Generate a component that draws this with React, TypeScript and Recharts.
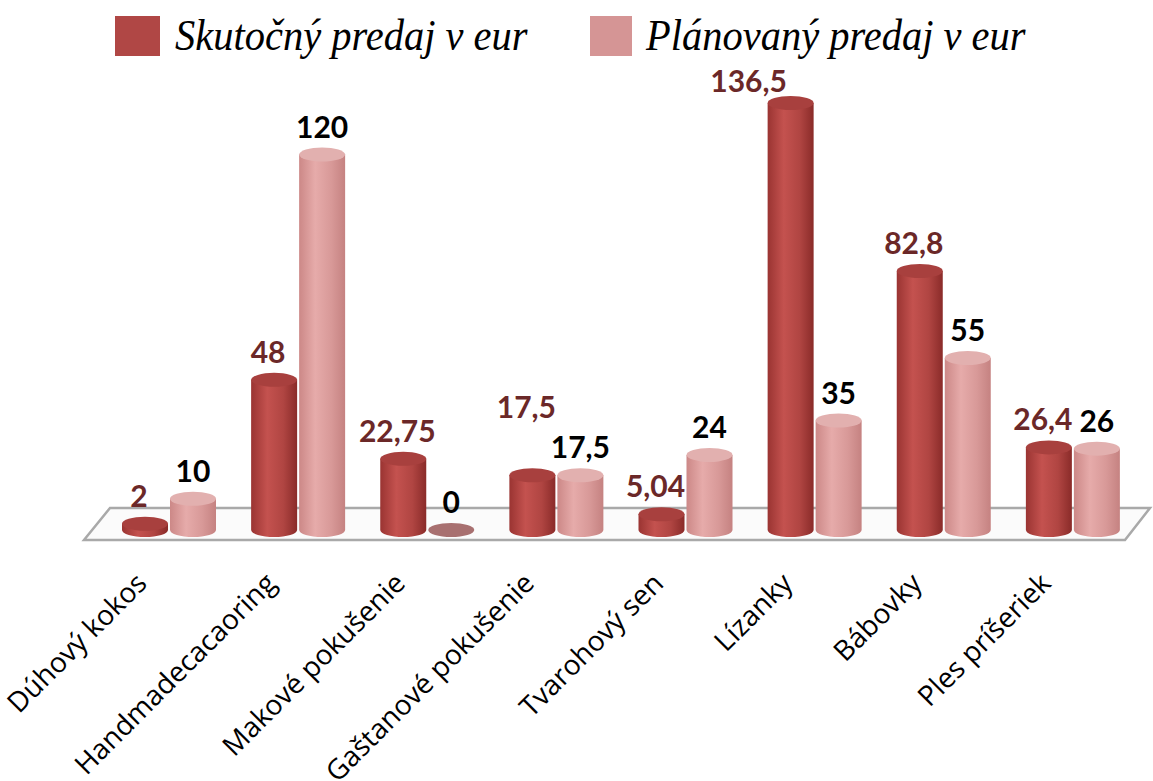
import { BarChart, Bar, XAxis, YAxis, LabelList, ReferenceArea } from 'recharts';

const categories = [
  'Dúhový kokos',
  'Handmadecacaoring',
  'Makové pokušenie',
  'Gaštanové pokušenie',
  'Tvarohový sen',
  'Lízanky',
  'Bábovky',
  'Ples príšeriek',
];
const actualSales = [2, 48, 22.75, 17.5, 5.04, 136.5, 82.8, 26.4];
const plannedSales = [10, 120, 0, 17.5, 24, 35, 55, 26];

const seriesNames = ['Skutočný predaj v eur', 'Plánovaný predaj v eur'];

const data = categories.map((name, i) => ({
  name,
  actual: actualSales[i],
  planned: plannedSales[i],
}));

const RED = '#b04745';
const PINK = '#d59595';

const fmt = (v: number) => String(v).replace('.', ',');

// cylinder-ish bar: gradient body, rounded bottom, elliptical top
function Cylinder(props: any) {
  const { x, y, width, height, gradId, topFill, flatFill } = props;
  const rx = width / 2;
  const ry = 7;
  const cx = x + rx;
  if (!height || height < 1) {
    return <ellipse cx={cx} cy={y} rx={rx} ry={ry} fill={flatFill} />;
  }
  const bottom = y + height;
  const d = `M${x},${y} L${x},${bottom} A${rx},${ry} 0 0 0 ${x + width},${bottom} L${x + width},${y} Z`;
  return (
    <g>
      <path d={d} fill={`url(#${gradId})`} />
      <ellipse cx={cx} cy={y} rx={rx} ry={ry} fill={topFill} />
    </g>
  );
}

function Floor(props: any) {
  const { x, y, width } = props;
  const pts = [
    [x - 20, y + 10],
    [x + width - 12, y + 10],
    [x + width + 13, y - 22],
    [x + 6, y - 22],
  ];
  return (
    <polygon
      points={pts.map((p) => p.join(',')).join(' ')}
      fill="#fbfbfb"
      stroke="#a9a9a9"
      strokeWidth={2.5}
    />
  );
}

function CategoryTick(props: any) {
  const { x, y, payload } = props;
  const tx = x - 20;
  const ty = y + 47;
  return (
    <text
      x={tx}
      y={ty}
      textAnchor="end"
      transform={`rotate(-45, ${tx}, ${ty})`}
      fontFamily="'Open Sans', sans-serif"
      fontSize={28}
      fill="#000"
    >
      {payload.value}
    </text>
  );
}

// red labels: lift the label when it equals the planned one next to it,
// and slide it left when it would run into the legend
function ActualLabel(props: any) {
  const { x, y, width, value, index } = props;
  const lift = plannedSales[index] === value ? 40 : 0;
  const nearTop = y < 120;
  return (
    <text
      x={x + width / 2 + (nearTop ? -42 : -6)}
      y={y - 17 - lift + (nearTop ? 6 : 0)}
      textAnchor="middle"
      fontFamily="Lato, sans-serif"
      fontWeight={700}
      fontSize={30}
      fill="#6b2828"
    >
      {fmt(value)}
    </text>
  );
}

function PlannedLabel(props: any) {
  const { x, y, width, value } = props;
  return (
    <text
      x={x + width / 2}
      y={y - 17}
      textAnchor="middle"
      fontFamily="Lato, sans-serif"
      fontWeight={700}
      fontSize={30}
      fill="#000"
    >
      {fmt(value)}
    </text>
  );
}

const legendText = {
  display: 'inline-block',
  transform: 'scaleX(0.92)',
  transformOrigin: 'left center',
};

export default function App() {
  return (
    <div style={{ position: 'absolute', left: 0, top: 0, width: 1153, height: 781, background: '#fff' }}>
      <div
        style={{
          position: 'absolute',
          top: 10,
          left: 115,
          display: 'flex',
          alignItems: 'center',
          fontFamily: "'Liberation Serif', serif",
          fontStyle: 'italic',
          fontSize: 44,
          color: '#000',
          whiteSpace: 'nowrap',
        }}
      >
        <span style={{ display: 'inline-block', width: 45, height: 40, background: RED, marginRight: 15 }} />
        <span style={{ ...legendText, width: 415 }}>{seriesNames[0]}</span>
        <span style={{ display: 'inline-block', width: 42, height: 40, background: PINK, marginRight: 14 }} />
        <span style={legendText}>{seriesNames[1]}</span>
      </div>
      <div style={{ position: 'absolute', left: 0, top: 0 }}>
        <BarChart
          width={1153}
          height={781}
          data={data}
          margin={{ top: 92, right: 16, bottom: 0, left: 104 }}
          barSize={46}
          barGap={2}
        >
          <defs>
            <linearGradient id="gRed" x1="0" y1="0" x2="1" y2="0">
              <stop offset="0%" stopColor="#9a3432" />
              <stop offset="35%" stopColor="#c4524f" />
              <stop offset="70%" stopColor="#b04542" />
              <stop offset="100%" stopColor="#8a2b29" />
            </linearGradient>
            <linearGradient id="gPink" x1="0" y1="0" x2="1" y2="0">
              <stop offset="0%" stopColor="#cc8887" />
              <stop offset="35%" stopColor="#e6abaa" />
              <stop offset="70%" stopColor="#d89998" />
              <stop offset="100%" stopColor="#c58281" />
            </linearGradient>
          </defs>
          <XAxis
            dataKey="name"
            axisLine={false}
            tickLine={false}
            interval={0}
            height={251}
            tick={<CategoryTick />}
          />
          <YAxis hide domain={[0, 140]} />
          <ReferenceArea y1={0} y2={0} shape={<Floor />} ifOverflow="visible" />
          <Bar
            dataKey="actual"
            name={seriesNames[0]}
            fill={RED}
            isAnimationActive={false}
            shape={<Cylinder gradId="gRed" topFill="#a8403e" flatFill="#8e3432" />}
          >
            <LabelList dataKey="actual" content={<ActualLabel />} />
          </Bar>
          <Bar
            dataKey="planned"
            name={seriesNames[1]}
            fill={PINK}
            isAnimationActive={false}
            shape={<Cylinder gradId="gPink" topFill="#e2b0af" flatFill="#a87070" />}
          >
            <LabelList dataKey="planned" content={<PlannedLabel />} />
          </Bar>
        </BarChart>
      </div>
    </div>
  );
}
